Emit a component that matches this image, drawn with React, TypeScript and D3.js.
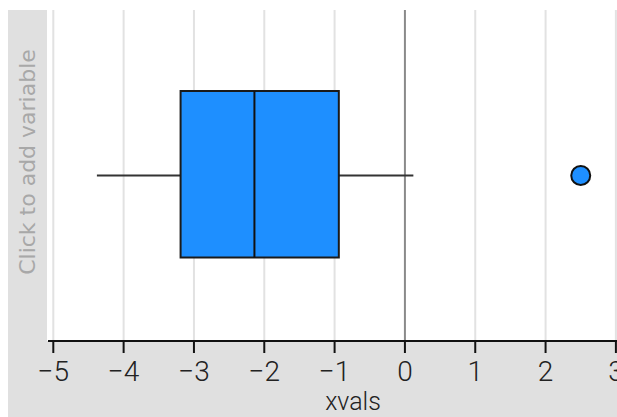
import React from "react";
import * as d3 from "d3";

const tickValues = [-5, -4, -3, -2, -1, 0, 1, 2, 3];
const boxStats = { min: -4.38, q1: -3.19, median: -2.14, q3: -0.94, max: 0.12 };
const outliers = [2.5];
const axisLabel = "xvals";
const sideLabel = "Click to add variable";

export default function App() {
  const W = 617, H = 417;
  const panelX = 8, panelY = 10;
  const plotX = 47, axisY = 341;
  const x = d3.scaleLinear().domain([-5, 3]).range([53.3, 615.9]);
  const boxTop = 91, boxBot = 257.5;
  const midY = 175.5;
  const fmt = (v: number) => (v < 0 ? "\u2212" + Math.abs(v) : String(v));
  const font = "Roboto, 'Open Sans', sans-serif";
  return (
    <svg width={W} height={H} style={{ position: "absolute", left: 0, top: 0 }}>
      <rect x={0} y={0} width={W} height={H} fill="#fff" />
      <rect x={panelX} y={panelY} width={W - panelX} height={H - panelY} fill="#e0e0e0" />
      <rect x={plotX} y={panelY} width={W - plotX} height={axisY - panelY} fill="#fff" />
      {tickValues.map((t) => (
        <line key={"g" + t} x1={x(t)} x2={x(t)} y1={panelY} y2={axisY}
          stroke={t === 0 ? "#8a8a8a" : "#e2e2e2"} strokeWidth={2} />
      ))}
      <line x1={x(boxStats.min)} x2={x(boxStats.q1)} y1={midY} y2={midY} stroke="#333" strokeWidth={2} />
      <line x1={x(boxStats.q3)} x2={x(boxStats.max)} y1={midY} y2={midY} stroke="#333" strokeWidth={2} />
      <rect x={x(boxStats.q1)} y={boxTop} width={x(boxStats.q3) - x(boxStats.q1)} height={boxBot - boxTop}
        fill="#1e8fff" stroke="#1a1a1a" strokeWidth={2} />
      <line x1={x(boxStats.median)} x2={x(boxStats.median)} y1={boxTop} y2={boxBot} stroke="#111" strokeWidth={2} />
      {outliers.map((o, i) => (
        <circle key={i} cx={x(o)} cy={midY} r={9.5} fill="#1e8fff" stroke="#111" strokeWidth={2} />
      ))}
      <line x1={plotX + 1} x2={W} y1={axisY} y2={axisY} stroke="#111" strokeWidth={2} />
      {tickValues.map((t) => (
        <g key={"t" + t}>
          <line x1={x(t)} x2={x(t)} y1={axisY} y2={axisY + 12} stroke="#111" strokeWidth={2} />
          <text x={x(t)} y={381} textAnchor="middle" fontFamily={font} fontWeight={300} fontSize={28} fill="#222">
            {fmt(t)}
          </text>
        </g>
      ))}
      <text x={353} y={410} textAnchor="middle" fontFamily={font} fontWeight={300} fontSize={25} fill="#222">
        {axisLabel}
      </text>
      <text transform={`translate(35, 162) rotate(-90)`} textAnchor="middle"
        fontFamily="'DejaVu Sans', sans-serif" fontSize={22} fill="#a8a8a8">
        {sideLabel}
      </text>
    </svg>
  );
}
